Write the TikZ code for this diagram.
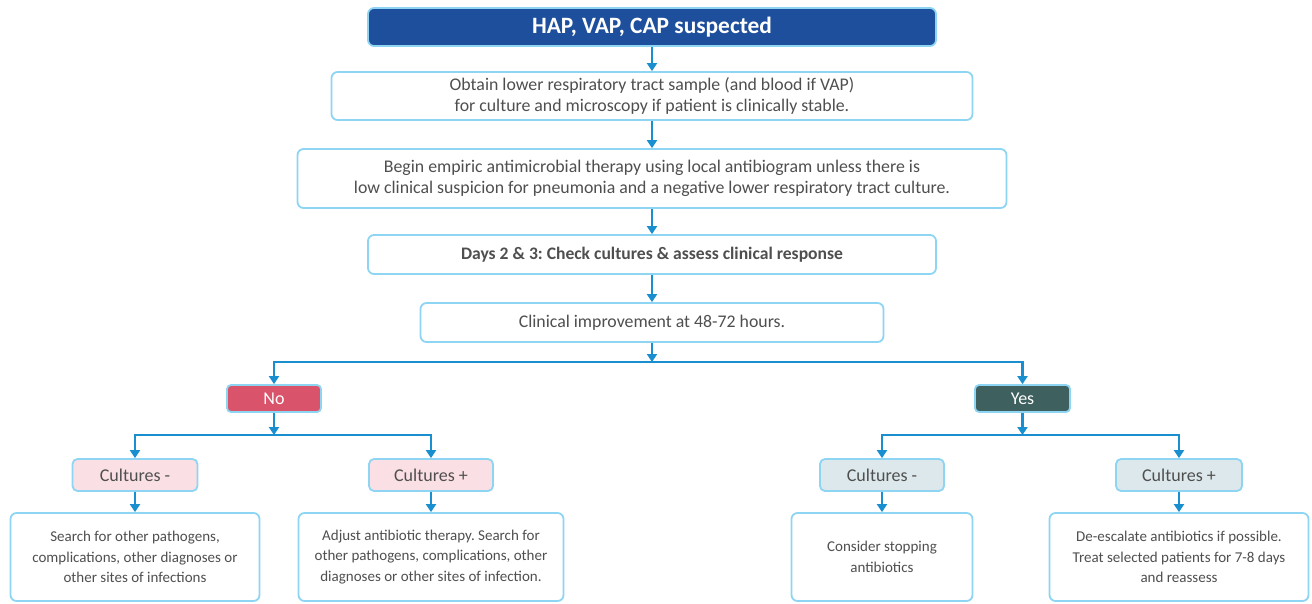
\documentclass[tikz,border=0pt]{standalone}
\usepackage{fontspec}
\setmainfont{Carlito}
\usetikzlibrary{arrows.meta,calc}
\frenchspacing
\definecolor{bord}{HTML}{8DD5F2}
\definecolor{arrc}{HTML}{1A8FD0}
\definecolor{txt}{HTML}{4F4F4F}
\definecolor{titlefill}{HTML}{1E4F9C}
\definecolor{nofill}{HTML}{D9546A}
\definecolor{yesfill}{HTML}{3E605F}
\definecolor{pinkfill}{HTML}{FADFE4}
\definecolor{greyfill}{HTML}{DCE8EB}
\tikzset{
  base/.style={draw=bord, line width=1.8pt, rounded corners=6pt, inner sep=0pt, align=center, text=txt},
  mainbox/.style={base, fill=white, font=\fontsize{17.8}{21.5}\selectfont},
  titlebox/.style={base, fill=titlefill, text=white, font=\fontsize{23.4}{26}\selectfont\bfseries},
  decbox/.style={base, text=white, rounded corners=4pt, font=\fontsize{18}{20}\selectfont},
  cultbox/.style={base, rounded corners=5pt, font=\fontsize{18}{20}\selectfont},
  endbox/.style={base, fill=white, font=\fontsize{15}{20.5}\selectfont},
  arr/.style={draw=arrc, line width=2.4pt, -{Triangle[width=10pt,length=8pt]}},
}
\begin{document}
\frenchspacing
\begin{tikzpicture}[x=1pt,y=-1pt]
\useasboundingbox (0,0) rectangle (1312,603);
\node[titlebox, minimum width=568pt, minimum height=38pt] (title) at (652,27) {HAP, VAP, CAP suspected};
\node[mainbox, minimum width=641pt, minimum height=48pt] (obtain) at (652,96) {Obtain lower respiratory tract sample (and blood if VAP)\\for culture and microscopy if patient is clinically stable.};
\node[mainbox, minimum width=709pt, minimum height=59pt] (begin) at (652,178.5) {Begin empiric antimicrobial therapy using local antibiogram unless there is\\low clinical suspicion for pneumonia and a negative lower respiratory tract culture.};
\node[mainbox, minimum width=568pt, minimum height=39pt, font=\fontsize{17.6}{20}\selectfont\bfseries] (days) at (652,254.5) {Days 2 \& 3: Check cultures \& assess clinical response};
\node[mainbox, minimum width=463pt, minimum height=39pt] (clin) at (652,322.5) {Clinical improvement at 48-72 hours.};
\node[decbox, fill=nofill, minimum width=94pt, minimum height=27pt] (no) at (274,398.5) {No};
\node[decbox, fill=yesfill, minimum width=95pt, minimum height=27pt] (yes) at (1022.5,398.5) {Yes};
\node[cultbox, fill=pinkfill, minimum width=125pt, minimum height=32pt] (cm1) at (135,475) {Cultures -};
\node[cultbox, fill=pinkfill, minimum width=124pt, minimum height=32pt] (cp1) at (431,475) {Cultures +};
\node[cultbox, fill=greyfill, minimum width=124pt, minimum height=32pt] (cm2) at (882,475) {Cultures -};
\node[cultbox, fill=greyfill, minimum width=126pt, minimum height=32pt] (cp2) at (1179,475) {Cultures +};
\node[endbox, minimum width=249pt, minimum height=88pt] (b1) at (135,557) {Search for other pathogens,\\complications, other diagnoses or\\other sites of infections};
\node[endbox, minimum width=265pt, minimum height=88pt] (b2) at (431,557) {Adjust antibiotic therapy. Search for\\other pathogens, complications, other\\diagnoses or other sites of infection.};
\node[endbox, minimum width=181pt, minimum height=88pt] (b3) at (882,557) {Consider stopping\\antibiotics};
\node[endbox, minimum width=259pt, minimum height=88pt] (b4) at (1179,557) {De-escalate antibiotics if possible.\\Treat selected patients for 7-8 days\\and reassess};
\coordinate (s0) at (652,362);
\coordinate (s1) at (274,435);
\coordinate (s2) at (1022.5,435);
\draw[arr] (title.south) -- (obtain.north);
\draw[arr] (obtain.south) -- (begin.north);
\draw[arr] (begin.south) -- (days.north);
\draw[arr] (days.south) -- (clin.north);
\draw[arr] (clin.south) -- (s0);
\draw[arr] (s0) -| (no.north);
\draw[arr] (s0) -| (yes.north);
\draw[arr] (no.south) -- (s1);
\draw[arr] (s1) -| (cm1.north);
\draw[arr] (s1) -| (cp1.north);
\draw[arr] (yes.south) -- (s2);
\draw[arr] (s2) -| (cm2.north);
\draw[arr] (s2) -| (cp2.north);
\draw[arr] (cm1.south) -- (b1.north);
\draw[arr] (cp1.south) -- (b2.north);
\draw[arr] (cm2.south) -- (b3.north);
\draw[arr] (cp2.south) -- (b4.north);
\end{tikzpicture}
\end{document}
